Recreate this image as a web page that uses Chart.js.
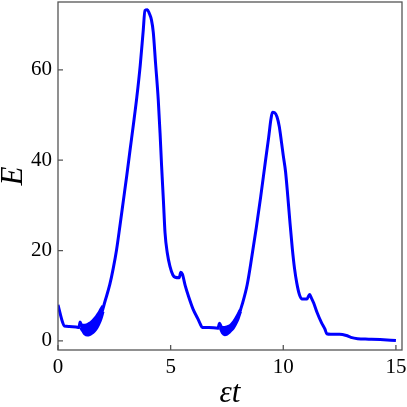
<!DOCTYPE html>
<html>
<head>
<meta charset="utf-8">
<script src="https://cdn.jsdelivr.net/npm/chart.js@4.4.1/dist/chart.umd.min.js"></script>
<style>
  html, body { margin: 0; padding: 0; background: #fff; }
  #wrap { width: 407px; height: 407px; position: relative; }
</style>
</head>
<body>
<div id="wrap"><canvas id="chart"></canvas></div>
<script>
// main energy curve, E vs eps*t
const tValues = [0, 0.1, 0.2, 0.28, 0.5, 0.8, 0.93, 0.98, 1.05, 1.2, 1.3, 1.45, 1.6, 1.75, 1.9, 2.1, 2.3, 2.45, 2.6, 2.75, 2.9, 3.05, 3.2, 3.35, 3.5, 3.65, 3.78, 3.86, 3.97, 4.05, 4.15, 4.23, 4.33, 4.45, 4.53, 4.6, 4.68, 4.75, 4.85, 4.97, 5.1, 5.2, 5.38, 5.45, 5.52, 5.65, 5.8, 6.0, 6.2, 6.32, 6.4, 6.7, 7.1, 7.17, 7.25, 7.4, 7.6, 7.8, 8.0, 8.2, 8.4, 8.6, 8.8, 9.0, 9.2, 9.35, 9.45, 9.52, 9.62, 9.72, 9.82, 9.92, 10.0, 10.1, 10.2, 10.3, 10.4, 10.5, 10.6, 10.72, 10.82, 11.05, 11.17, 11.22, 11.35, 11.5, 11.7, 11.85, 11.93, 12.1, 12.5, 12.8, 13.0, 13.3, 13.8, 14.3, 15.0];
const eValues = [8.0, 6.0, 4.2, 3.3, 3.2, 3.1, 3.0, 4.2, 3.4, 2.6, 2.4, 2.7, 3.4, 4.1, 5.6, 9.0, 12.5, 16.0, 20.2, 25.5, 31.0, 36.5, 42.3, 48.0, 54.0, 61.0, 68.5, 73.1, 73.3, 72.5, 71.0, 68.3, 61.5, 53.4, 46.0, 38.6, 31.0, 24.0, 19.5, 16.5, 14.6, 14.1, 14.0, 15.2, 14.8, 12.2, 9.8, 7.0, 5.0, 3.7, 3.0, 3.0, 2.8, 3.9, 3.1, 2.2, 2.6, 3.6, 5.5, 8.5, 12.5, 18.5, 25.0, 32.0, 39.5, 45.0, 49.0, 50.6, 50.5, 49.6, 47.5, 44.0, 41.0, 37.5, 32.0, 26.0, 20.5, 16.0, 12.8, 10.2, 9.3, 9.3, 10.3, 9.8, 8.4, 6.3, 4.0, 2.6, 1.6, 1.5, 1.5, 1.2, 0.8, 0.5, 0.4, 0.3, 0.1];

// fast-oscillation envelopes in the two valleys
const band1T = [1.0, 1.1, 1.2, 1.3, 1.4, 1.5, 1.6, 1.7, 1.8, 1.9, 2.0];
const band1Lo = [3.0, 2.2, 1.5, 1.3, 1.4, 1.7, 2.1, 2.7, 3.6, 4.8, 6.5];
const band1Hi = [3.4, 3.5, 3.5, 3.6, 3.9, 4.3, 4.8, 5.4, 6.1, 7.0, 7.8];
const band2T = [7.2, 7.3, 7.4, 7.5, 7.6, 7.7, 7.8, 7.9, 8.0, 8.1];
const band2Lo = [2.9, 1.8, 1.4, 1.5, 1.9, 2.4, 3.0, 3.9, 5.0, 6.5];
const band2Hi = [3.2, 3.0, 3.0, 3.1, 3.3, 3.7, 4.3, 5.1, 6.0, 7.0];

const xTicks = [0, 5, 10, 15];
const yTicks = [0, 20, 40, 60];

const pts = (xs, ys) => xs.map((x, i) => ({ x: x, y: ys[i] }));
const blue = '#0000ff';
const lineStyle = { borderColor: blue, backgroundColor: blue, borderWidth: 3, pointRadius: 0, cubicInterpolationMode: 'monotone' };

// frame on all four sides plus inward ticks
const framePlugin = {
  id: 'frame',
  afterDraw(chart) {
    const { ctx, chartArea: a, scales } = chart;
    ctx.save();
    ctx.strokeStyle = '#555';
    ctx.lineWidth = 1.3;
    ctx.strokeRect(a.left, a.top, a.right - a.left, a.bottom - a.top);
    ctx.beginPath();
    xTicks.forEach(v => {
      const px = scales.x.getPixelForValue(v);
      ctx.moveTo(px, a.bottom);
      ctx.lineTo(px, a.bottom - 5);
    });
    yTicks.forEach(v => {
      const py = scales.y.getPixelForValue(v);
      ctx.moveTo(a.left, py);
      ctx.lineTo(a.left + 5, py);
    });
    ctx.stroke();
    ctx.restore();
  }
};

const tickFont = { family: '"Liberation Serif", serif', size: 21 };
const titleFont = { family: '"Liberation Serif", serif', size: 31, style: 'italic' };

const noPad = s => { s.paddingTop = 0; s.paddingBottom = 0; s.paddingLeft = 0; s.paddingRight = 0; };

new Chart(document.getElementById('chart'), {
  type: 'line',
  data: {
    datasets: [
      { ...lineStyle, data: pts(tValues, eValues) },
      { ...lineStyle, data: pts(band1T, band1Lo) },
      { ...lineStyle, data: pts(band1T, band1Hi), fill: '-1' },
      { ...lineStyle, data: pts(band2T, band2Lo) },
      { ...lineStyle, data: pts(band2T, band2Hi), fill: '-1' }
    ]
  },
  options: {
    responsive: true,
    maintainAspectRatio: false,
    animation: false,
    layout: { padding: { top: 2, right: 5, left: 0, bottom: 0 } },
    plugins: { legend: { display: false }, tooltip: { enabled: false } },
    scales: {
      x: {
        type: 'linear',
        min: 0,
        max: 15.27,
        afterBuildTicks: s => { s.ticks = xTicks.map(v => ({ value: v })); },
        afterFit: s => { s.height = 57; noPad(s); },
        grid: { display: false, drawTicks: false },
        border: { display: false },
        ticks: { color: '#000', font: tickFont, padding: 5, maxRotation: 0 },
        title: { display: true, text: 'εt', color: '#000', font: titleFont, padding: { top: 0, bottom: -5 } }
      },
      y: {
        type: 'linear',
        min: -2,
        max: 75,
        afterBuildTicks: s => { s.ticks = yTicks.map(v => ({ value: v })); },
        afterFit: s => { s.width = 58; noPad(s); },
        grid: { display: false, drawTicks: false },
        border: { display: false },
        ticks: { color: '#000', font: tickFont, padding: 6 },
        title: { display: true, text: 'E', color: '#000', font: titleFont, padding: { top: -5, bottom: 0 } }
      }
    }
  },
  plugins: [framePlugin]
});
</script>
</body>
</html>
